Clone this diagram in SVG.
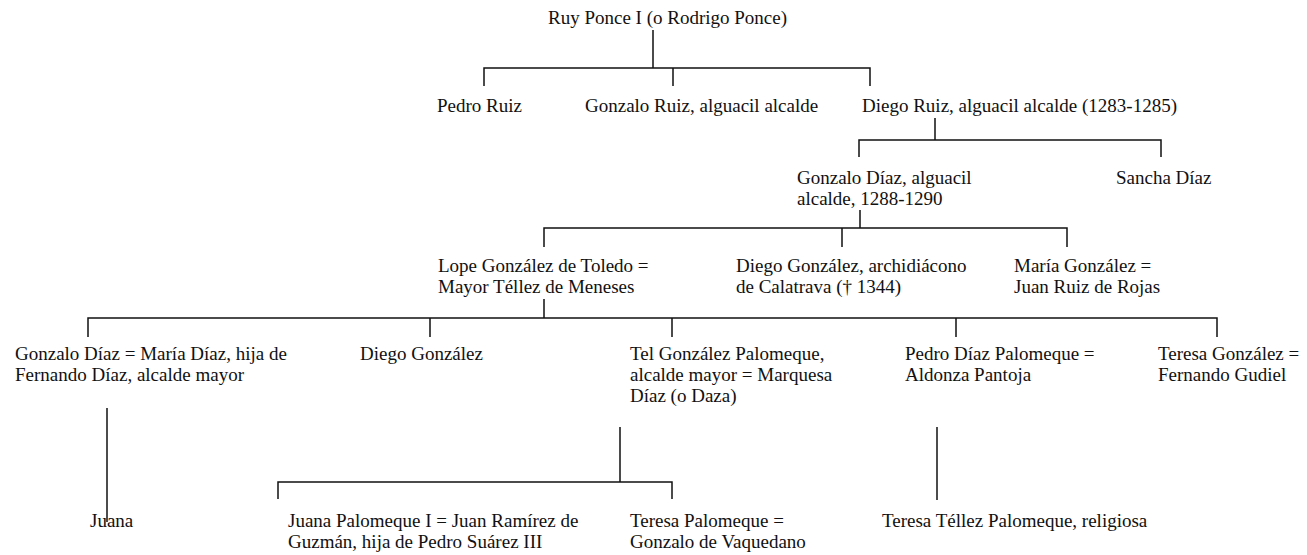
<svg xmlns="http://www.w3.org/2000/svg" width="1307" height="555" viewBox="0 0 1307 555">
<style>
text{font-family:"Liberation Serif","Times New Roman",serif;font-size:19px;fill:#111}
.c{fill:none;stroke:#111;stroke-width:1.5}
</style>
<rect width="1307" height="555" fill="#fff"/>
<g id="connectors" class="c">
<path d="M653 30V68M484 86V68H870V86M673 68V86"/>
<path d="M935 118V140M859 157V140H1161V157"/>
<path d="M860 210V228M544 247V228H1067V247M842 228V247"/>
<path d="M544 299V318M88 337V318H1217V337M430 318V337M672 318V337M956 318V337"/>
<path d="M107 408V522"/>
<path d="M620 427V482M278 499V482H672V499"/>
<path d="M937 427V500"/>
</g>
<g id="n-ruy"><text x="548" y="24">Ruy Ponce I (o Rodrigo Ponce)</text></g>
<g id="n-pedro-ruiz"><text x="437" y="112">Pedro Ruiz</text></g>
<g id="n-gonzalo-ruiz"><text x="585" y="112">Gonzalo Ruiz, alguacil alcalde</text></g>
<g id="n-diego-ruiz"><text x="862" y="112">Diego Ruiz, alguacil alcalde (1283-1285)</text></g>
<g id="n-gonzalo-diaz"><text x="797" y="184">Gonzalo Díaz, alguacil</text><text x="797" y="205">alcalde, 1288-1290</text></g>
<g id="n-sancha"><text x="1116" y="184">Sancha Díaz</text></g>
<g id="n-lope"><text x="438" y="272">Lope González de Toledo =</text><text x="438" y="293">Mayor Téllez de Meneses</text></g>
<g id="n-diego-arch"><text x="736" y="272">Diego González, archidiácono</text><text x="736" y="293">de Calatrava († 1344)</text></g>
<g id="n-maria"><text x="1014" y="272">María González =</text><text x="1014" y="293">Juan Ruiz de Rojas</text></g>
<g id="n-gonzalo-diaz2"><text x="15" y="360">Gonzalo Díaz = María Díaz, hija de</text><text x="15" y="381">Fernando Díaz, alcalde mayor</text></g>
<g id="n-diego-gonzalez"><text x="360" y="360">Diego González</text></g>
<g id="n-tel"><text x="630" y="360">Tel González Palomeque,</text><text x="630" y="381">alcalde mayor = Marquesa</text><text x="630" y="402">Díaz (o Daza)</text></g>
<g id="n-pedro-diaz"><text x="905" y="360">Pedro Díaz Palomeque =</text><text x="905" y="381">Aldonza Pantoja</text></g>
<g id="n-teresa-gonzalez"><text x="1158" y="360">Teresa González =</text><text x="1158" y="381">Fernando Gudiel</text></g>
<g id="n-juana"><text x="90" y="527">Juana</text></g>
<g id="n-juana-palomeque"><text x="288" y="527">Juana Palomeque I = Juan Ramírez de</text><text x="288" y="548">Guzmán, hija de Pedro Suárez III</text></g>
<g id="n-teresa-palomeque"><text x="630" y="527">Teresa Palomeque =</text><text x="630" y="548">Gonzalo de Vaquedano</text></g>
<g id="n-teresa-tellez"><text x="882" y="527">Teresa Téllez Palomeque, religiosa</text></g>
</svg>
